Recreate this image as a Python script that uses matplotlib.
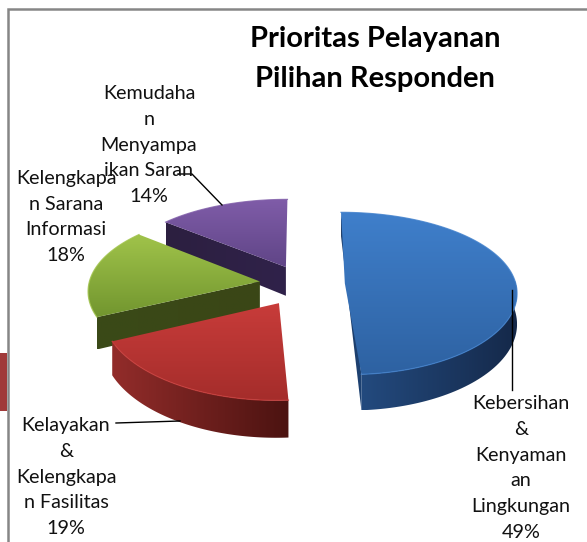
import numpy as np
import matplotlib
matplotlib.use('Agg')
import matplotlib.pyplot as plt
from matplotlib.colors import LinearSegmentedColormap
from matplotlib.patches import Polygon

plt.rcParams['font.family'] = ['Lato', 'DejaVu Sans']

# data
labels = ['Kebersihan\n&\nKenyaman\nan\nLingkungan\n49%',
          'Kelayakan\n&\nKelengkapa\nn Fasilitas\n19%',
          'Kelengkapa\nn Sarana\nInformasi\n18%',
          'Kemudaha\nn\nMenyampa\nikan Saran\n14%']
values = [49, 19, 18, 14]
title = 'Prioritas Pelayanan\nPilihan Responden'

# top colours (back, front) and side colours (left, right)
top_cols = [('#3F7FCB', '#2E62A2'), ('#C83C3A', '#A52D2B'),
            ('#A0C34A', '#72962F'), ('#7F5CA8', '#604587')]
side_cols = [('#234A7E', '#15294A'), ('#922C2A', '#4C1311'),
             ('#3A4A18', '#3A4616'), ('#2C1F40', '#30224A')]

# projection of the tilted disc to pixels
cx, cy = 303, 284
R, Ry = 171, 80
kx, ky = 0.10, 0.124
explode = [0.245, 0.27, 0.255, 0.24]


def project(u, v):
    x = cx + R * u / (1 + kx * v)
    y = cy - Ry * v / (1 + ky * v)
    return x, y


def drop(v):
    return 30 - 6 * v


def grad_fill(ax, xs, ys, c0, c1, vertical=True):
    cmap = LinearSegmentedColormap.from_list('g', [c0, c1])
    g = np.linspace(0, 1, 64)
    g = g[:, None] if vertical else g[None, :]
    im = ax.imshow(g, cmap=cmap, aspect='auto', interpolation='bilinear',
                   extent=(min(xs), max(xs), max(ys), min(ys)), zorder=ax.zcount)
    poly = Polygon(np.column_stack([xs, ys]), closed=True, transform=ax.transData)
    im.set_clip_path(poly)
    ax.zcount += 1


fig = plt.figure(figsize=(5.87, 5.42), dpi=100)
ax = fig.add_axes([0, 0, 1, 1])
ax.zcount = 2
ax.axis('off')

edges = np.concatenate([[0], np.cumsum(values)]) / sum(values) * 2 * np.pi

# wedge geometry from the values
wedges = []
for i in range(len(values)):
    a0, a1 = edges[i], edges[i + 1]
    mid = (a0 + a1) / 2
    ou, ov = explode[i] * np.sin(mid), explode[i] * np.cos(mid)
    t = np.linspace(a0, a1, 120)
    wedges.append((ou, ov, ou + np.sin(t), ov + np.cos(t)))

# back to front: purple, green, blue, red
for i in [3, 2, 0, 1]:
    ou, ov, u, v = wedges[i]
    px, py = project(u, v)
    ox, oy = project(ou, ov)
    d = drop(v)
    d0 = drop(ov)
    # radial faces seen from the front
    if i == 3:
        xs = [ox, px[0], px[0], ox]
        ys = [oy, py[0], py[0] + d[0], oy + d0]
        grad_fill(ax, xs, ys, *side_cols[i], vertical=False)
    if i == 2:
        xs = [px[0], ox, ox, px[0]]
        ys = [py[0], oy, oy + d0, py[0] + d[0]]
        grad_fill(ax, xs, ys, *side_cols[i], vertical=False)
    if i == 0:
        xs = [px[0], px[0], px[-1], px[-1]]
        ys = [py[0], py[0] + d[0], py[-1] + d[-1], py[-1]]
        grad_fill(ax, xs, ys, '#1B3A66', '#1E4272', vertical=False)
    # outer wall, front part of the arc only
    if i in (0, 1):
        front = v < 0.05 + ov
        fx, fy, fd = px[front], py[front], d[front]
        xs = np.concatenate([fx, fx[::-1]])
        ys = np.concatenate([fy, (fy + fd)[::-1]])
        grad_fill(ax, xs, ys, *side_cols[i], vertical=False)
    # top surface
    xs = np.concatenate([[ox], px])
    ys = np.concatenate([[oy], py])
    grad_fill(ax, xs, ys, *top_cols[i], vertical=True)
    ax.plot(px, py, color=top_cols[i][0], lw=0.9, alpha=0.8, zorder=ax.zcount)
    ax.zcount += 1

# frame and the block at the left edge
ax.plot([7.5, 7.5, 587], [542, 9, 9], color='#868686', lw=1.8, zorder=30,
        solid_joinstyle='miter')
ax.fill_between([0, 6.5], 353, 411, color='#A03A3A', lw=0, zorder=30)

# leader lines
ax.plot([178, 192, 222], [174, 174, 205], color='black', lw=1, zorder=31)
ax.plot([116, 180], [423, 421], color='black', lw=1, zorder=31)
ax.plot([512, 512], [290, 390], color='black', lw=1, zorder=31)

# text
ax.text(375, 59, title, ha='center', va='center', fontsize=21, fontweight='bold',
        linespacing=1.67, color='black', zorder=32)
pos = [(521, 468), (66, 477), (66, 217), (149, 145)]
for lab, (x, y) in zip(labels, pos):
    ax.text(x, y, lab, ha='center', va='center', fontsize=14.2, linespacing=1.62,
            color='#111111', zorder=32)

ax.set_xlim(0, 587)
ax.set_ylim(542, 0)
fig.savefig('out.png', dpi=100)
